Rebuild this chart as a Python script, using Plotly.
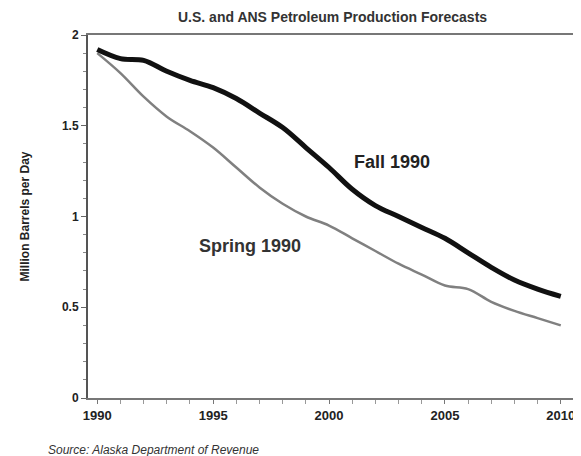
import plotly.graph_objects as go

years = list(range(1990, 2011))
fall_1990 = [1.92, 1.87, 1.86, 1.80, 1.75, 1.71, 1.65, 1.57, 1.49, 1.38, 1.27,
             1.15, 1.06, 1.00, 0.94, 0.88, 0.80, 0.72, 0.65, 0.60, 0.56]
spring_1990 = [1.90, 1.79, 1.66, 1.55, 1.47, 1.38, 1.27, 1.16, 1.07, 1.00, 0.95,
               0.88, 0.81, 0.74, 0.68, 0.62, 0.60, 0.53, 0.48, 0.44, 0.40]
x_ticks = [1990, 1995, 2000, 2005, 2010]
y_ticks = [0, 0.5, 1, 1.5, 2]
y_tick_labels = ["0", "0.5", "1", "1.5", "2"]

FONT = "Liberation Sans Narrow, Arial Narrow, Liberation Sans, Arial, sans-serif"

fig = go.Figure()
fig.add_trace(go.Scatter(x=years, y=spring_1990, mode="lines", line=dict(color="#808080", width=2.5, shape="spline"),
                         showlegend=False, hoverinfo="skip"))
fig.add_trace(go.Scatter(x=years, y=fall_1990, mode="lines", line=dict(color="#111111", width=5, shape="spline"),
                         showlegend=False, hoverinfo="skip"))

fig.add_annotation(x=2002.7, y=1.30, text="<b>Fall 1990</b>", showarrow=False,
                   font=dict(family=FONT, size=18, color="#222"))
fig.add_annotation(x=1996.6, y=0.84, text="<b>Spring 1990</b>", showarrow=False,
                   font=dict(family=FONT, size=18, color="#333"))
fig.add_annotation(xref="paper", yref="paper", x=0.5, y=1, yshift=18, yanchor="middle",
                   text="<b>U.S. and ANS Petroleum Production Forecasts</b>", showarrow=False,
                   font=dict(family=FONT, size=14, color="#333"))
fig.add_annotation(xref="paper", yref="paper", x=-0.085, y=0, yshift=-52, xanchor="left", yanchor="middle",
                   text="<i>Source: Alaska Department of Revenue</i>", showarrow=False,
                   font=dict(family=FONT, size=12, color="#333"))

fig.update_layout(
    width=581, height=456,
    margin=dict(l=80, r=10, t=27, b=66),
    plot_bgcolor="white", paper_bgcolor="white",
    font=dict(family=FONT, color="#222"),
    xaxis=dict(range=[1989.6, 2010.7], tickvals=x_ticks, ticktext=["<b>%d</b>" % v for v in x_ticks],
               showgrid=False, zeroline=False, showline=True, linecolor="#777", linewidth=2,
               mirror=True, ticks="outside", ticklen=4, tickcolor="#777",
               tickfont=dict(family=FONT, size=13, color="#222"),
               minor=dict(dtick=1, ticks="outside", ticklen=4, tickcolor="#999")),
    yaxis=dict(range=[0, 2], tickvals=y_ticks, ticktext=["<b>%s</b>" % t for t in y_tick_labels],
               showgrid=False, zeroline=False, showline=True, linecolor="#555", linewidth=2,
               mirror=True, ticks="outside", ticklen=5, tickcolor="#666",
               tickfont=dict(family=FONT, size=12, color="#222"),
               minor=dict(dtick=0.1, ticks="outside", ticklen=3, tickcolor="#888"),
               title=dict(text="<b>Million Barrels per Day</b>", standoff=30,
                          font=dict(family=FONT, size=12, color="#222"))),
)

fig.write_html("out.html")
